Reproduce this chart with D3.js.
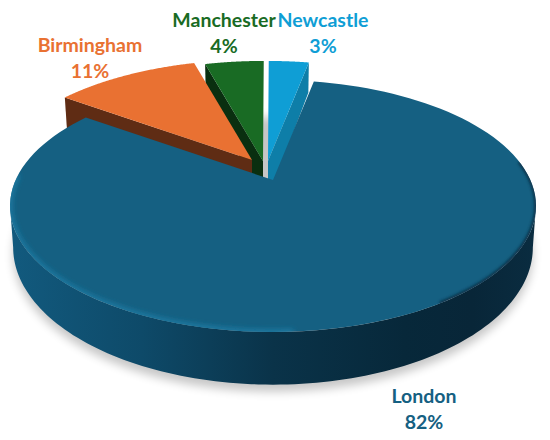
<!DOCTYPE html>
<html><head><meta charset="utf-8">
<script src="https://cdn.jsdelivr.net/npm/d3@7"></script>
<style>html,body{margin:0;background:#fff}svg{display:block}text{font-family:Lato,sans-serif;font-weight:700;font-size:19.5px;text-anchor:middle}</style>
</head><body><svg id="c" width="550" height="440"></svg>
<script>
const categories = ["London","Birmingham","Manchester","Newcastle"];
const shares = [81.8,10.8,4.4,3.0];
const topColors = ["#156082","#E97132","#196B24","#0F9ED5"];
const faceColors = ["#0e4a69","#5f2c14","#0a2f10","#0e7ea8"];

const svg = d3.select("#c");
const rx = 263, ry = 126, dPersp = 0.206;
const wallOffset = 39, wallScaleY = 1.09, wallScaleX = 0.988;
const apex = {London:[273,180],Birmingham:[252,160],Manchester:[263,161],Newcastle:[268,161]};
const labelAt = {London:[424,403],Birmingham:[90,52],Manchester:[224,27],Newcastle:[323,27]};
const rotation = 11*Math.PI/180;
const arcs = d3.pie().sort(null).value(d=>d).startAngle(rotation).endAngle(rotation+2*Math.PI)(shares);
const byName = Object.fromEntries(categories.map((c,i)=>[c,arcs[i]]));

function proj(name,a,r,z){
  const x=r*Math.sin(a), y=r*Math.cos(a), k=1/(1+dPersp*y);
  const sx=rx*(z?wallScaleX:1)*x*Math.sqrt(1-dPersp*dPersp)*k;
  const g=(-y-dPersp)/(1+dPersp*y);
  const sy=ry*(z?wallScaleY:1)*(g+dPersp);
  return [apex[name][0]+sx, apex[name][1]+sy+(z?wallOffset:0)];
}
const line=d3.line();
function arcPts(name,a0,a1,z){
  return d3.range(0,121).map(i=>proj(name,a0+(a1-a0)*i/120,1,z));
}
function topPath(name){
  const d=byName[name];
  return line([proj(name,0,0,0),...arcPts(name,d.startAngle,d.endAngle,0)])+"Z";
}
function facePath(name,a){
  return line([proj(name,a,1,0),proj(name,a,0,0),proj(name,a,0,1),proj(name,a,1,1)])+"Z";
}
const defs=svg.append("defs");
const blur=(id,s)=>defs.append("filter").attr("id",id).attr("x","-20%").attr("y","-20%").attr("width","140%").attr("height","140%")
  .append("feGaussianBlur").attr("stdDeviation",s);
blur("sh",5); blur("bev",2.4); blur("edge",1.5);
const grad=defs.append("linearGradient").attr("id","wall").attr("x1",0).attr("x2",1).attr("y1",0).attr("y2",0);
[[0,"#125a7e"],[.25,"#0e4a69"],[.5,"#0a3349"],[.75,"#07283a"],[.88,"#082638"],[1,"#0a2c40"]].forEach(([o,c])=>grad.append("stop").attr("offset",o).attr("stop-color",c));
defs.append("clipPath").attr("id","topClip").append("path").attr("d",topPath("London"));

const M=byName.Manchester, N=byName.Newcastle, B=byName.Birmingham;
const full=d3.range(0,181).map(i=>proj("London",2*Math.PI*i/180,1,1));
svg.append("path").attr("d",line(full)+"Z").attr("transform","translate(0,7)").attr("fill","#000").attr("opacity",.22).attr("filter","url(#sh)");

svg.append("path").attr("d",facePath("Newcastle",N.endAngle)).attr("fill",faceColors[3]);
svg.append("path").attr("d",topPath("Newcastle")).attr("fill",topColors[3]);
svg.append("path").attr("d",facePath("Manchester",M.startAngle)).attr("fill",faceColors[2]);
svg.append("path").attr("d",topPath("Manchester")).attr("fill",topColors[2]);
svg.append("path").attr("d",facePath("Birmingham",B.startAngle)).attr("fill",faceColors[1]);
svg.append("path").attr("d",topPath("Birmingham")).attr("fill",topColors[1]);

// London wall: between the two widest points of the rim
const wide=Math.PI-Math.acos(dPersp);
const wallA0=wide, wallA1=2*Math.PI-wide;
const wall=[...arcPts("London",wallA0,wallA1,0),...arcPts("London",wallA1,wallA0,1)];
svg.append("path").attr("d",line(wall)+"Z").attr("fill","url(#wall)");
svg.append("path").attr("d",topPath("London")).attr("fill",topColors[0]);
const bevel=svg.append("g").attr("clip-path","url(#topClip)");
bevel.append("path").attr("d",line(arcPts("London",Math.PI*0.98,wallA1+.25,0))).attr("fill","none")
  .attr("stroke","#1b7aa3").attr("stroke-width",5).attr("filter","url(#bev)");
bevel.append("path").attr("d",line(arcPts("London",Math.PI*0.45,Math.PI*0.82,0))).attr("fill","none")
  .attr("stroke","#0a2f44").attr("stroke-width",3.5).attr("filter","url(#edge)");

const labels=svg.append("g");
categories.forEach((c,i)=>{
  const [x,y]=labelAt[c];
  const t=labels.append("text").attr("x",x).attr("y",y).attr("fill",topColors[i]);
  t.append("tspan").attr("x",x).text(c);
  t.append("tspan").attr("x",x).attr("dy",25.5).text(Math.round(shares[i])+"%");
});
</script></body></html>
